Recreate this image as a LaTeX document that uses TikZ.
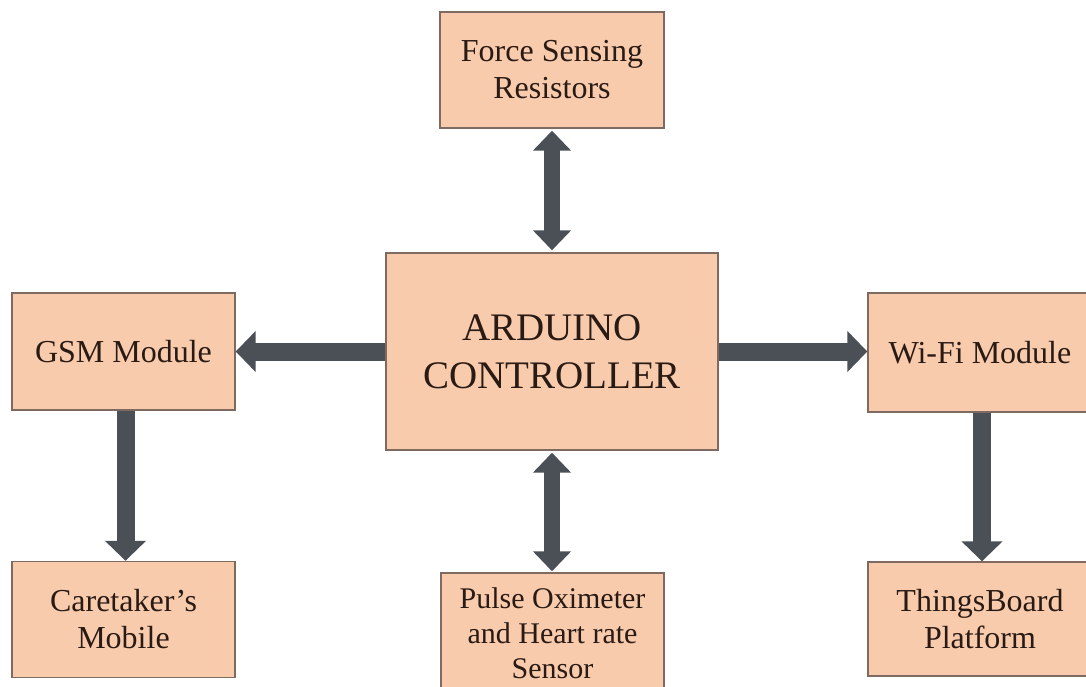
\documentclass[tikz,border=0pt]{standalone}
\usepackage{fontspec}
\setmainfont{Liberation Serif}
\usetikzlibrary{arrows.meta}
\definecolor{boxfill}{HTML}{F8CBAD}
\definecolor{boxline}{HTML}{7E6A60}
\definecolor{arrowc}{HTML}{4B5056}
\definecolor{txt}{HTML}{2A1A14}
\tikzset{
  blk/.style={draw=boxline, line width=1.4pt, fill=boxfill, inner sep=0pt, align=center, text=txt,
    font=\fontsize{32}{37}\selectfont},
  fwd/.style={draw=arrowc, line width=18pt, -{Triangle[length=20pt,width=40pt]}},
  both/.style={draw=arrowc, line width=16pt, {Triangle[length=20pt,width=37pt]}-{Triangle[length=20pt,width=37pt]}}
}
\begin{document}
\begin{tikzpicture}[x=1pt,y=-1pt]
\clip (0,0) rectangle (1086,687);
\fill[white] (0,0) rectangle (1086,687);
\node[blk, minimum width=224pt, minimum height=116pt] (fsr) at (552,70) {Force Sensing\\Resistors};
\node[blk, minimum width=332pt, minimum height=197pt, font=\fontsize{39}{48}\selectfont] (ard) at (552,351.5) {ARDUINO\\CONTROLLER};
\node[blk, minimum width=223pt, minimum height=117pt] (gsm) at (123.5,351.5) {GSM Module};
\node[blk, minimum width=224pt, minimum height=119pt] (wifi) at (980,352.5) {Wi-Fi Module};
\node[blk, minimum width=223pt, minimum height=116pt] (care) at (123.5,619.5) {Caretaker’s\\Mobile};
\node[blk, minimum width=224pt, minimum height=114pt] (tb) at (980,619) {ThingsBoard\\Platform};
\node[blk, minimum width=223pt, minimum height=120pt, font=\fontsize{30}{35}\selectfont] (pulse) at (552.5,633) {Pulse Oximeter\\and Heart rate\\Sensor};
\draw[both] ([yshift=-2pt]fsr.south) -- ([yshift=2pt]ard.north);
\draw[both] ([yshift=-2pt]ard.south) -- ([yshift=1pt]pulse.north -| ard.south);
\draw[fwd] (ard.west) -- (ard.west -| gsm.east);
\draw[fwd] (ard.east) -- (ard.east -| wifi.west);
\draw[fwd] ([xshift=2pt]gsm.south) -- ([xshift=2pt]care.north);
\draw[fwd] ([xshift=2pt]wifi.south) -- ([xshift=2pt]tb.north);
\end{tikzpicture}
\end{document}
